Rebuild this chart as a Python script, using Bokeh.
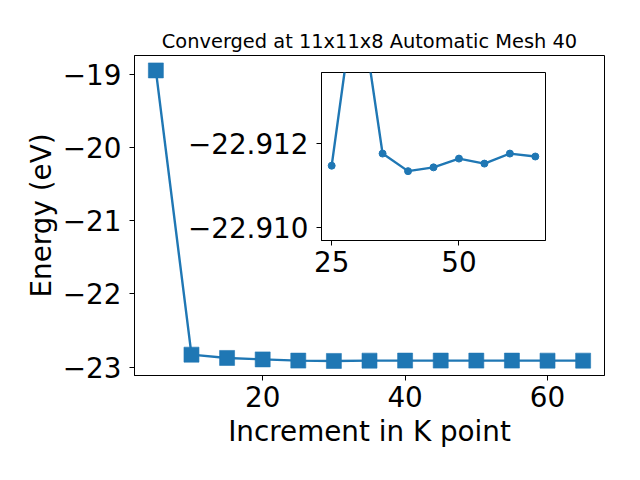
from bokeh.plotting import figure
from bokeh.layouts import column
from bokeh.models import Range1d, FixedTicker
from bokeh.embed import file_html
from bokeh.resources import INLINE

# Data
kpoints = [5, 10, 15, 20, 25, 30, 35, 40, 45, 50, 55, 60, 65]
energy = [-18.945, -22.83, -22.875, -22.895, -22.91147, -22.9159, -22.91176,
          -22.91134, -22.91143, -22.91164, -22.91152, -22.91176, -22.91169]
main_xticks = [20, 40, 60]
main_yticks = [-23, -22, -21, -20, -19]
inset_start = 4  # inset shows k >= 25
inset_xticks = [25, 50]
inset_yticks = [-22.912, -22.910]

title_text = "Converged at 11x11x8 Automatic Mesh 40"
xlabel = "Increment in K point"
ylabel = "Energy (eV)"

BLUE = "#1f77b4"
FONT = "DejaVu Sans"
BIG = "27.8px"


def minus(v, fmt):
    return (fmt % v).replace("-", "\u2212")


def style_axes(fig, fs):
    for ax in (fig.xaxis, fig.yaxis):
        ax.axis_line_color = "black"
        ax.major_tick_line_color = "black"
        ax.major_tick_out = 5
        ax.major_tick_in = 0
        ax.minor_tick_line_color = None
        ax.major_label_text_font = FONT
        ax.major_label_text_font_size = fs
        ax.major_label_text_color = "black"
        ax.axis_label_text_font = FONT
        ax.axis_label_text_font_style = "normal"
        ax.axis_label_text_color = "black"
    fig.xaxis.major_label_standoff = 5
    fig.yaxis.major_label_standoff = 8
    fig.xgrid.visible = False
    fig.ygrid.visible = False
    fig.outline_line_color = "black"
    fig.outline_line_width = 1


# Main figure
p = figure(frame_width=476, frame_height=320, output_backend="svg",
           toolbar_location=None,
           x_range=Range1d(2, 68), y_range=Range1d(-23.115, -18.741),
           min_border_left=121, min_border_right=16, min_border_top=55,
           min_border_bottom=89)
p.title.text = title_text
p.title.text_font = FONT
p.title.text_font_size = "19.4px"
p.title.text_font_style = "normal"
p.title.text_color = "black"
p.title.align = "center"
p.title.standoff = 5
style_axes(p, BIG)
p.xaxis.ticker = FixedTicker(ticks=main_xticks)
p.yaxis.ticker = FixedTicker(ticks=main_yticks)
p.yaxis.major_label_overrides = {t: minus(t, "%d") for t in main_yticks}
p.xaxis.axis_label = xlabel
p.yaxis.axis_label = ylabel
p.xaxis.axis_label_text_font_size = BIG
p.yaxis.axis_label_text_font_size = BIG
p.xaxis.axis_label_standoff = 5
p.yaxis.axis_label_standoff = 2
p.margin = (0, 0, 0, -6)

p.line(kpoints, energy, line_color=BLUE, line_width=2.4)
p.scatter(kpoints, energy, marker="square", size=15, fill_color=BLUE,
          line_color=BLUE, line_alpha=0.6)

# Inset figure
ins = figure(frame_width=224, frame_height=168, output_backend="svg",
             toolbar_location=None,
             x_range=Range1d(23, 67), y_range=Range1d(-22.90968, -22.9137),
             min_border_left=140, min_border_right=10, min_border_top=10,
             min_border_bottom=45, border_fill_alpha=0,
             background_fill_color="white")
style_axes(ins, BIG)
ins.xaxis.ticker = FixedTicker(ticks=inset_xticks)
ins.yaxis.ticker = FixedTicker(ticks=inset_yticks)
ins.yaxis.major_label_overrides = {t: minus(t, "%.3f") for t in inset_yticks}
ix = kpoints[inset_start:]
iy = energy[inset_start:]
ins.line(ix, iy, line_color=BLUE, line_width=2.4)
ins.scatter(ix, iy, marker="circle", size=7, fill_color=BLUE, line_color=BLUE)
ins.margin = (-402, 0, 0, 181)

layout = column(p, ins)
open("out.html", "w").write(file_html(layout, INLINE))
